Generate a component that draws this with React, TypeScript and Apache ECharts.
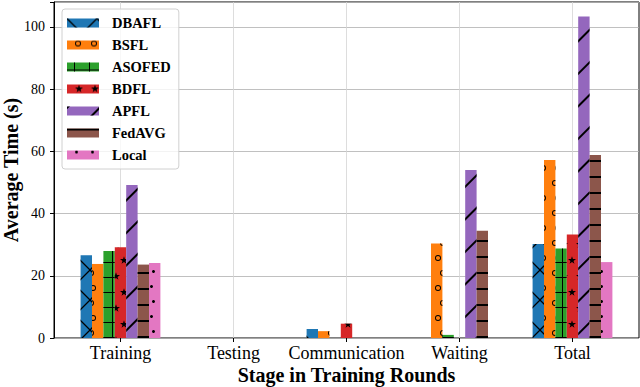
import React, { useEffect, useRef } from "react";
import * as echarts from "echarts";

const categories = ["Training", "Testing", "Communication", "Waiting", "Total"];
const seriesNames = ["DBAFL", "BSFL", "ASOFED", "BDFL", "APFL", "FedAVG", "Local"];
const dbafl = [26.6, 0, 2.9, 0, 30.2];
const bsfl = [23.8, 0, 2.2, 30.4, 57.2];
const asofed = [28.0, 0, 0, 1.0, 28.8];
const bdfl = [29.2, 0, 4.6, 0, 33.3];
const apfl = [49.2, 0, 0, 54.0, 103.3];
const fedavg = [23.6, 0, 0, 34.5, 58.8];
const local = [24.1, 0, 0, 0, 24.4];
const yTicks = [0, 20, 40, 60, 80, 100];

const seriesValues = [dbafl, bsfl, asofed, bdfl, apfl, fedavg, local];
const colors = ["#1f77b4", "#ff7f0e", "#2ca02c", "#d62728", "#9467bd", "#8c564b", "#e377c2"];

const FONT = "'Liberation Serif', 'Times New Roman', serif";

const starPath =
  "path://M50,0 L61.17,34.63 L97.55,34.55 L68.07,55.87 L79.39,90.45 L50,69 L20.61,90.45 L31.93,55.87 L2.45,34.55 L38.83,34.63 Z";
const ringPath =
  "path://M0,3 A3,3 0 1,1 6,3 A3,3 0 1,1 0,3 Z M0.9,3 A2.1,2.1 0 1,0 5.1,3 A2.1,2.1 0 1,0 0.9,3 Z";
const crossPath = "path://M0,7 L15,7 L15,8 L0,8 Z M7,0 L8,0 L8,15 L7,15 Z";
const xPath =
  "path://M0,0 L0.9,0 L30,29.1 L30,30 L29.1,30 L0,0.9 Z M30,0 L30,0.9 L0.9,30 L0,30 L0,29.1 L29.1,0 Z";

const decals: any[] = [
  { symbol: xPath, symbolSize: 1, dashArrayX: [30, 0], dashArrayY: [30, 0], color: "#000" },
  {
    symbol: ringPath,
    symbolSize: 1,
    dashArrayX: [[6, 9], [0, 7.5, 6, 1.5]],
    dashArrayY: [6, 9],
    color: "#000",
  },
  { symbol: crossPath, symbolSize: 1, dashArrayX: [15, 0], dashArrayY: [15, 0], color: "#000" },
  {
    symbol: starPath,
    symbolSize: 1,
    dashArrayX: [[7.5, 7.5], [0, 7.5, 7.5, 0]],
    dashArrayY: [7.5, 7.5],
    color: "#000",
  },
  {
    symbol: "rect",
    symbolSize: 1,
    dashArrayX: [1, 0],
    dashArrayY: [1.1, 20.1],
    rotation: -Math.PI / 4,
    color: "#000",
  },
  { symbol: "rect", symbolSize: 1, dashArrayX: [1, 0], dashArrayY: [1.3, 13.2], color: "#000" },
  {
    symbol: "circle",
    symbolSize: 1,
    dashArrayX: [[3, 12], [0, 7.5, 3, 4.5]],
    dashArrayY: [3, 12],
    color: "#000",
  },
];

export default function App() {
  const ref = useRef<HTMLDivElement>(null);
  useEffect(() => {
    if (!ref.current) return;
    const chart = echarts.init(ref.current, undefined, { renderer: "svg" });
    const series: any[] = seriesNames.map((name, i) => ({
      name,
      type: "bar",
      xAxisIndex: 1,
      yAxisIndex: 1,
      data: seriesValues[i],
      barWidth: 11.4,
      barGap: "0%",
      itemStyle: { color: colors[i], decal: decals[i] },
      z: 3,
    }));
    chart.setOption({
      animation: false,
      grid: [
        {
          left: 54,
          top: 2,
          width: 585,
          height: 336,
          show: true,
          borderColor: "#000",
          borderWidth: 1,
          backgroundColor: "transparent",
          containLabel: false,
          outerBoundsMode: "none",
        },
        { left: 64, top: 2, width: 565, height: 336, containLabel: false, outerBoundsMode: "none" },
        {
          left: 120.5,
          top: 2,
          width: 452,
          height: 336,
          containLabel: false,
          outerBoundsMode: "none",
        },
      ],
      xAxis: [
        { type: "value", gridIndex: 0, min: 0, max: 1, show: false },
        {
          type: "category",
          gridIndex: 1,
          data: categories,
          axisLine: { show: false },
          axisTick: { show: true, alignWithLabel: true, length: 4, lineStyle: { color: "#000" } },
          axisLabel: {
            color: "#000",
            fontFamily: FONT,
            fontSize: 18,
            margin: 6,
            interval: 0,
            hideOverlap: false,
          },
          splitLine: { show: false },
          name: "Stage in Training Rounds",
          nameLocation: "middle",
          nameGap: 27,
          nameMoveOverlap: false,
          nameTextStyle: { color: "#000", fontFamily: FONT, fontSize: 20, fontWeight: "bold" },
        },
        {
          type: "value",
          gridIndex: 2,
          min: 0,
          max: 4,
          interval: 1,
          axisLine: { show: false },
          axisTick: { show: false },
          axisLabel: { show: false },
          splitLine: { show: true, lineStyle: { color: "#d4d4d4", width: 0.8 } },
        },
      ],
      yAxis: [
        {
          type: "value",
          gridIndex: 0,
          min: 0,
          max: 108,
          interval: 20,
          axisLine: { show: true, lineStyle: { color: "#000" } },
          axisTick: { show: true, length: 4, lineStyle: { color: "#000" } },
          axisLabel: {
            color: "#000",
            fontFamily: FONT,
            fontSize: 14,
            margin: 9,
            formatter: (v: number) => (yTicks.includes(v) ? String(v) : ""),
          },
          splitLine: { show: true, lineStyle: { color: "#b0b0b0", width: 0.8 } },
          name: "Average Time (s)",
          nameLocation: "middle",
          nameGap: 33,
          nameMoveOverlap: false,
          nameRotate: 90,
          nameTextStyle: { color: "#000", fontFamily: FONT, fontSize: 20, fontWeight: "bold" },
        },
        { type: "value", gridIndex: 1, min: 0, max: 108, show: false },
        { type: "value", gridIndex: 2, min: 0, max: 108, show: false },
      ],
      legend: {
        orient: "vertical",
        left: 62,
        top: 9,
        data: seriesNames,
        icon: "rect",
        itemWidth: 32,
        itemHeight: 9,
        itemGap: 6,
        padding: [6, 8, 6, 5],
        borderColor: "#d0d0d0",
        borderWidth: 1,
        borderRadius: 3,
        backgroundColor: "rgba(255,255,255,0.8)",
        textStyle: {
          color: "#000",
          fontFamily: FONT,
          fontSize: 14.5,
          fontWeight: "bold",
          lineHeight: 16,
          padding: [0, 0, 0, 8],
        },
        z: 10,
      },
      series,
    });
    return () => chart.dispose();
  }, []);
  return (
    <div
      ref={ref}
      style={{ position: "fixed", left: 0, top: 0, width: 640, height: 387, background: "#fff" }}
    />
  );
}
